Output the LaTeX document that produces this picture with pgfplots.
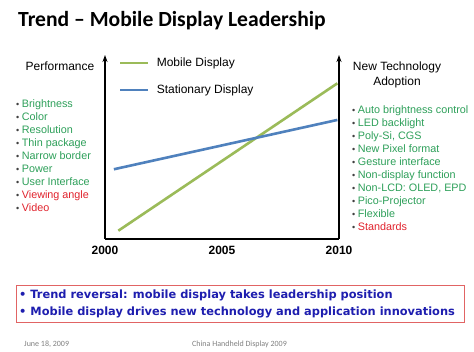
\documentclass[border=0pt]{standalone}
\usepackage{pgfplots}
\pgfplotsset{compat=1.18}
\usepackage{fontspec}
\setmainfont{Liberation Sans}
\newfontfamily\calibri{Carlito}
\newfontfamily\dejavu{DejaVu Sans}
\usetikzlibrary{arrows.meta}
\definecolor{mobgreen}{RGB}{155,187,89}
\definecolor{statblue}{RGB}{79,129,189}
\definecolor{txtgreen}{RGB}{46,160,90}
\definecolor{txtred}{RGB}{225,35,45}
\definecolor{boxred}{RGB}{225,100,100}
\definecolor{boxblue}{RGB}{30,30,175}
\newcommand{\bul}{{\color{darkgray}\fontsize{9}{9}\selectfont •}\hspace{2.5pt}}
\begin{document}
\begin{tikzpicture}[x=1pt,y=1pt]
\path[use as bounding box, fill=white] (0,0) rectangle (474,352);
% title
\node[anchor=base west, inner sep=0pt, font=\calibri\bfseries\fontsize{21.6}{26}\selectfont] at (18,325) {Trend – Mobile Display Leadership};
\begin{axis}[
  at={(105pt,113pt)}, anchor=south west,
  scale only axis, width=234pt, height=184pt,
  xmin=2000, xmax=2010, ymin=0, ymax=10,
  axis x line*=bottom, axis y line*=left,
  x axis line style={line width=1.8pt, -},
  y axis line style={line width=1.8pt, -{Stealth[length=7pt,width=5pt]}},
  xtick={2000,2005,2010}, xticklabels={2000,2005,2010},
  ytick=\empty,
  major tick length=0pt,
  /pgf/number format/assume math mode=true,
  xticklabel style={font=\bfseries\fontsize{12}{14}\selectfont, yshift=-4pt},
  clip=false,
  legend cell align=left,
  legend style={at={(rel axis cs:0.047,1.008)}, anchor=north west, draw=none, fill=none,
    font=\fontsize{12}{14}\selectfont, row sep=13pt,
    /tikz/every odd column/.append style={column sep=5pt}},
  legend image code/.code={\draw[#1] (0pt,0pt) -- (28pt,0pt);},
]
\addplot[mobgreen, line width=2.6pt] coordinates {(2000.57,0.45) (2009.93,8.46)};
\addlegendentry{Mobile Display}
\addplot[statblue, line width=2.6pt] coordinates {(2000.38,3.79) (2009.93,6.47)};
\addlegendentry{Stationary Display}
\draw[line width=1.8pt, -{Stealth[length=7pt,width=5pt]}] (axis cs:2010,0) -- (axis cs:2010,10);
\end{axis}
% left labels
\node[font=\fontsize{12}{14}\selectfont] at (60,286) {Performance};
\node[font=\fontsize{12}{15}\selectfont, align=center] at (397,277.5) {New Technology\\Adoption};
\begin{scope}[every node/.style={anchor=base west, inner sep=0pt, font=\fontsize{10.8}{13}\selectfont}]
\node[txtgreen] at (16,244) {\bul Brightness};
\node[txtgreen] at (16,231) {\bul Color};
\node[txtgreen] at (16,218) {\bul Resolution};
\node[txtgreen] at (16,205) {\bul Thin package};
\node[txtgreen] at (16,192) {\bul Narrow border};
\node[txtgreen] at (16,179) {\bul Power};
\node[txtgreen] at (16,166) {\bul User Interface};
\node[txtred] at (16,153) {\bul Viewing angle};
\node[txtred] at (16,140) {\bul Video};
\node[txtgreen] at (352,238) {\bul Auto brightness control};
\node[txtgreen] at (352,225) {\bul LED backlight};
\node[txtgreen] at (352,212) {\bul Poly-Si, CGS};
\node[txtgreen] at (352,199) {\bul New Pixel format};
\node[txtgreen] at (352,186) {\bul Gesture interface};
\node[txtgreen] at (352,173) {\bul Non-display function};
\node[txtgreen] at (352,160) {\bul Non-LCD: OLED, EPD};
\node[txtgreen] at (352,147) {\bul Pico-Projector};
\node[txtgreen] at (352,134) {\bul Flexible};
\node[txtred] at (352,121) {\bul Standards};
\end{scope}
% bottom box
\draw[boxred, line width=0.8pt] (16,30) rectangle (464,67);
\node[anchor=base west, inner sep=0pt, text=boxblue, font=\dejavu\bfseries\fontsize{11.4}{14}\selectfont] at (19,53) {• Trend reversal: mobile display takes leadership position};
\node[anchor=base west, inner sep=0pt, text=boxblue, font=\dejavu\bfseries\fontsize{11.4}{14}\selectfont] at (19,36) {• Mobile display drives new technology and application innovations};
% footer
\node[anchor=west, inner sep=0pt, text=gray, font=\calibri\fontsize{8}{9}\selectfont] at (24,8) {June 18, 2009};
\node[anchor=west, inner sep=0pt, text=gray, font=\calibri\fontsize{8}{9}\selectfont] at (192,8) {China Handheld Display 2009};
\end{tikzpicture}
\end{document}
